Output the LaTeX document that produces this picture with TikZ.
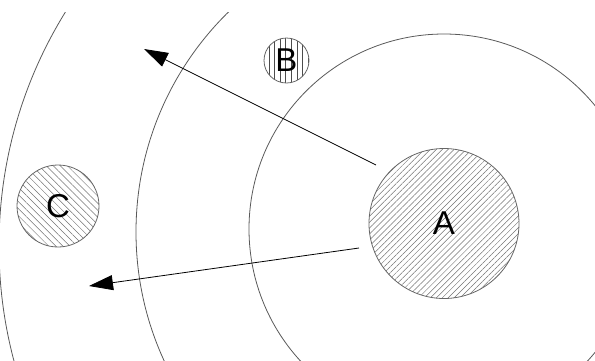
\documentclass[tikz,border=0pt]{standalone}
\usepackage{fontspec}
\setmainfont{Liberation Sans}
\usetikzlibrary{arrows.meta,patterns.meta}
\tikzset{
  ring/.style={draw=black!65, line width=0.8pt},
  body/.style={circle, draw=black!60, line width=0.8pt, inner sep=0pt, font=\fontsize{33}{33}\selectfont},
  motion/.style={draw=black, line width=0.8pt, -{Triangle[length=24pt,width=15pt]}}
}
\begin{document}
\begin{tikzpicture}[x=1pt,y=-1pt]
\useasboundingbox (0,0) rectangle (595,360);
\begin{scope}
  \clip (0,12) rectangle (595,360);
  \draw[ring] (444,229) circle[radius=195pt];
  \draw[ring] (444,232) circle[radius=308pt];
  \draw[ring] (444,246) circle[radius=445pt];
\end{scope}
\node[body, minimum size=150pt, pattern={Lines[angle=45,distance=4.2pt,line width=0.5pt]}, pattern color=black!55] (A) at (444,223.5) {};
\node at (A.center) {\fontsize{33}{33}\selectfont A};
\node[body, minimum size=45pt, pattern={Lines[angle=90,distance=5.6pt,line width=0.6pt]}, pattern color=black!70] (B) at (286.5,60.5) {};
\node at (B.center) {\fontsize{33}{33}\selectfont B};
\node[body, minimum size=82pt, pattern={Lines[angle=-45,distance=5pt,line width=0.5pt]}, pattern color=black!55] (C) at (58,206) {};
\node at (C.center) {\fontsize{33}{33}\selectfont C};
\coordinate (s1) at (376,165);
\coordinate (t1) at (144,49);
\coordinate (s2) at (359,248);
\coordinate (t2) at (89,286);
\draw[motion] (s1) -- (t1);
\draw[motion] (s2) -- (t2);
\end{tikzpicture}
\end{document}
